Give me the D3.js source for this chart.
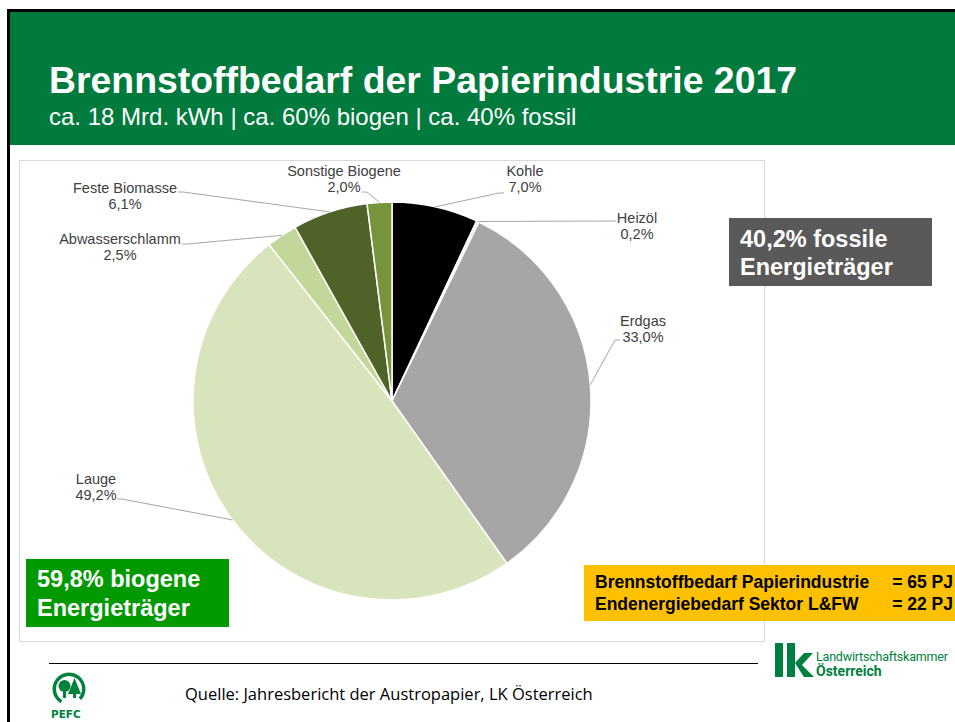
<!DOCTYPE html>
<html>
<head>
<meta charset="utf-8">
<script src="https://cdn.jsdelivr.net/npm/d3@7"></script>
<style>
  body { margin: 0; background: #fff; }
  svg { display: block; }
</style>
</head>
<body>
<div id="chart"></div>
<script>
// Brennstoffbedarf der Papierindustrie 2017 - pie chart

var categories = ["Kohle", "Heizöl", "Erdgas", "Lauge", "Abwasserschlamm", "Feste Biomasse", "Sonstige Biogene"]
var shares = [7.0, 0.2, 33.0, 49.2, 2.5, 6.1, 2.0]
var sliceColors = ["#000000", "#d9d9d9", "#a6a6a6", "#d8e4bc", "#c4d79b", "#4f6228", "#77933c"]

var title = "Brennstoffbedarf der Papierindustrie 2017"
var subtitle = "ca. 18 Mrd. kWh | ca. 60% biogen | ca. 40% fossil"
var fossilBox = ["40,2% fossile", "Energieträger"]
var bioBox = ["59,8% biogene", "Energieträger"]
var pjLeft = ["Brennstoffbedarf Papierindustrie", "Endenergiebedarf Sektor L&FW"]
var pjRight = ["= 65 PJ", "= 22 PJ"]
var source = "Quelle: Jahresbericht der Austropapier, LK Österreich"

// where Excel put the data labels (centre x, first baseline, leader start)
var labelSpots = [
    { cx: 525, y: 176, ax: 504, ay: 193 },
    { cx: 637, y: 223, ax: 616, ay: 221 },
    { cx: 643, y: 326, ax: 620, ay: 340 },
    { cx: 96,  y: 484, ax: 117, ay: 499 },
    { cx: 120, y: 244, ax: 182, ay: 244 },
    { cx: 125, y: 193, ax: 178, ay: 192 },
    { cx: 344, y: 176, ax: 362, ay: 192 }
]

var W = 955, H = 722
var svg = d3.select("#chart").append("svg").attr("width", W).attr("height", H)

// frame + header
svg.append("rect").attr("x", 7).attr("y", 9).attr("width", W - 7).attr("height", 3).attr("fill", "#000")
svg.append("rect").attr("x", 7).attr("y", 9).attr("width", 3).attr("height", H - 9).attr("fill", "#000")
svg.append("rect").attr("x", 10).attr("y", 12).attr("width", W - 10).attr("height", 133).attr("fill", "#007a3d")

svg.append("text").attr("x", 49).attr("y", 93)
    .attr("style", "font-family:'Liberation Sans',Arial,sans-serif;font-size:37.4px;font-weight:bold;fill:#fff")
    .text(title)
svg.append("text").attr("x", 49).attr("y", 125)
    .attr("style", "font-family:'Liberation Sans',Arial,sans-serif;font-size:24px;fill:#fff")
    .text(subtitle)

// chart area border
svg.append("rect").attr("x", 19.5).attr("y", 160.5).attr("width", 745).attr("height", 481)
    .attr("fill", "#fff").attr("stroke", "#d9d9d9")

// pie
var cx = 392, cy = 401, r = 199
var data = categories.map((c, i) => ({ name: c, value: shares[i], color: sliceColors[i], spot: labelSpots[i] }))
var pie = d3.pie().value(d => d.value).sort(null)
var arc = d3.arc().innerRadius(0).outerRadius(r)
var arcs = pie(data)

var g = svg.append("g").attr("transform", "translate(" + cx + "," + cy + ")")
g.selectAll("path.slice")
    .data(arcs)
    .enter()
    .append("path")
    .attr("class", "slice")
    .attr("d", arc)
    .attr("fill", d => d.data.color)
    .attr("stroke", "#fff")
    .attr("stroke-width", 1.5)

// leader lines
svg.append("g").selectAll("path")
    .data(arcs)
    .enter()
    .append("path")
    .attr("d", d => {
        var a = (d.startAngle + d.endAngle) / 2
        var ex = cx + r * Math.sin(a), ey = cy - r * Math.cos(a)
        var s = d.data.spot
        var dir = ex > s.ax ? 1 : -1
        var p = d3.path()
        p.moveTo(s.ax, s.ay)
        p.lineTo(s.ax + dir * 5, s.ay)
        p.lineTo(ex, ey)
        return p.toString()
    })
    .attr("fill", "none")
    .attr("stroke", "#a6a6a6")
    .attr("stroke-width", 1)

var lbl = svg.append("g").selectAll("text")
    .data(arcs)
    .enter()
    .append("text")
    .attr("text-anchor", "middle")
    .attr("style", "font-family:'Liberation Sans',Arial,sans-serif;font-size:14.5px;fill:#404040")
lbl.append("tspan").attr("x", d => d.data.spot.cx).attr("y", d => d.data.spot.y).text(d => d.data.name)
lbl.append("tspan").attr("x", d => d.data.spot.cx).attr("y", d => d.data.spot.y + 16)
    .text(d => d3.format(".1f")(d.data.value).replace(".", ",") + "%")

// info boxes
function infoBox (x, y, w, h, fill, lines, color, size, lead) {
    svg.append("rect").attr("x", x).attr("y", y).attr("width", w).attr("height", h).attr("fill", fill)
    lines.forEach((t, i) => {
        svg.append("text").attr("x", x + 11).attr("y", y + lead[0] + i * lead[1])
            .attr("style", `font-family:'Liberation Sans',Arial,sans-serif;font-size:${size}px;font-weight:bold;fill:${color}`)
            .text(t)
    })
}
infoBox(729, 218, 203, 68, "#595959", fossilBox, "#fff", 23.5, [29, 28])
infoBox(26, 559, 203, 68, "#009900", bioBox, "#fff", 23.5, [28, 29])

svg.append("rect").attr("x", 584).attr("y", 565).attr("width", W - 584).attr("height", 56).attr("fill", "#ffc000")
pjLeft.forEach((t, i) => {
    svg.append("text").attr("x", 595).attr("y", 588 + i * 22)
        .attr("style", "font-family:'Liberation Sans',Arial,sans-serif;font-size:17.5px;font-weight:bold;fill:#000")
        .text(t)
    svg.append("text").attr("x", 953).attr("y", 588 + i * 22).attr("text-anchor", "end")
        .attr("style", "font-family:'Liberation Sans',Arial,sans-serif;font-size:17.5px;font-weight:bold;fill:#000")
        .text(pjRight[i])
})

// footer
svg.append("line").attr("x1", 49).attr("x2", 758).attr("y1", 663.5).attr("y2", 663.5).attr("stroke", "#000").attr("stroke-width", 1.2)
svg.append("text").attr("x", 185).attr("y", 700)
    .attr("style", "font-family:'Open Sans',sans-serif;font-size:16.5px;fill:#000")
    .text(source)

// LK logo
var lk = svg.append("g")
lk.append("rect").attr("x", 775).attr("y", 643).attr("width", 8).attr("height", 34).attr("fill", "#008040")
lk.append("rect").attr("x", 787).attr("y", 643).attr("width", 8).attr("height", 34).attr("fill", "#008040")
lk.append("path").attr("d", "M795,663 L804,653 L813,653 L802,665 L814,677 L804,677 Z").attr("fill", "#008040")
lk.append("text").attr("x", 816).attr("y", 661)
    .attr("style", "font-family:Roboto,sans-serif;font-size:12.5px;letter-spacing:-0.2px;fill:#008040")
    .text("Landwirtschaftskammer")
lk.append("text").attr("x", 816).attr("y", 676)
    .attr("style", "font-family:Roboto,sans-serif;font-size:14px;font-weight:bold;fill:#008040")
    .text("Österreich")

// PEFC logo
var pefc = svg.append("g").attr("transform", "translate(69,689)")
pefc.append("path").attr("d", d3.arc().innerRadius(13).outerRadius(16.5).startAngle(-2.6).endAngle(2.3)()).attr("fill", "#00823c")
pefc.append("circle").attr("cx", -4.5).attr("cy", -3).attr("r", 6).attr("fill", "#00823c")
pefc.append("rect").attr("x", -6).attr("y", 2).attr("width", 3).attr("height", 7).attr("fill", "#00823c")
pefc.append("path").attr("d", "M5.5,-11 L12,5 L-1,5 Z").attr("fill", "#00823c")
pefc.append("rect").attr("x", 4).attr("y", 4).attr("width", 3).attr("height", 5).attr("fill", "#00823c")
pefc.append("text").attr("x", -18).attr("y", 29)
    .attr("style", "font-family:'DejaVu Sans',sans-serif;font-size:10.5px;font-weight:bold;fill:#00823c")
    .text("PEFC")
</script>
</body>
</html>
